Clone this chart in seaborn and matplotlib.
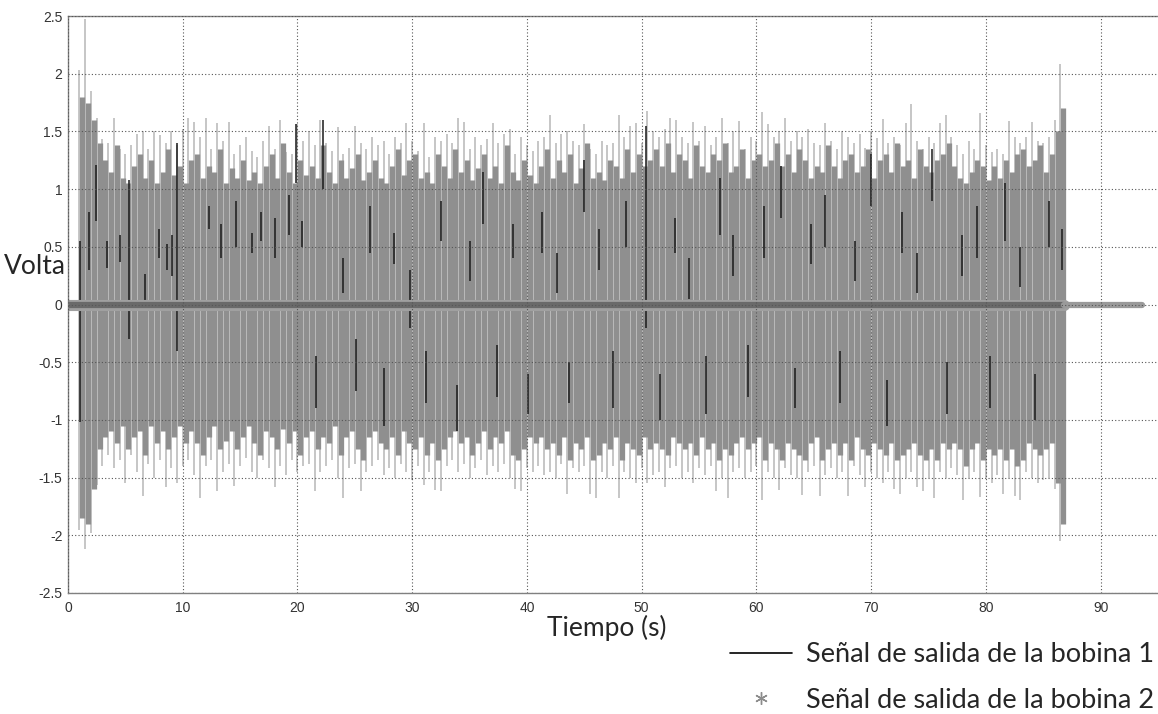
import numpy as np
import matplotlib
matplotlib.use('Agg')
import matplotlib.pyplot as plt
from matplotlib.lines import Line2D
import seaborn as sns

OUTPUT = 'out.png'

# --- datos ---
# picos de la bobina 2 (cada 0.5 s desde 1.0 s)
pico_sup = [
    2.03, 2.47, 1.85, 1.62, 1.43, 1.40, 1.62, 1.35, 1.30, 1.38, 1.48, 1.50, 1.35, 1.50, 1.47, 1.40, 1.50, 1.38, 1.52, 1.62,
    1.58, 1.45, 1.62, 1.35, 1.57, 1.42, 1.58, 1.30, 1.38, 1.45, 1.33, 1.28, 1.42, 1.55, 1.35, 1.60, 1.32, 1.30, 1.56, 1.42,
    1.50, 1.38, 1.60, 1.40, 1.33, 1.54, 1.30, 1.36, 1.55, 1.40, 1.35, 1.45, 1.38, 1.42, 1.30, 1.45, 1.40, 1.57, 1.42, 1.33,
    1.57, 1.28, 1.45, 1.42, 1.48, 1.40, 1.62, 1.58, 1.35, 1.45, 1.38, 1.43, 1.57, 1.40, 1.48, 1.52, 1.30, 1.45, 1.38, 1.33,
    1.42, 1.45, 1.64, 1.40, 1.48, 1.50, 1.42, 1.38, 1.56, 1.35, 1.30, 1.42, 1.38, 1.40, 1.64, 1.45, 1.55, 1.57, 1.40, 1.68,
    1.50, 1.45, 1.52, 1.62, 1.60, 1.45, 1.40, 1.58, 1.42, 1.55, 1.38, 1.45, 1.62, 1.40, 1.50, 1.59, 1.35, 1.45, 1.42, 1.67,
    1.56, 1.45, 1.50, 1.62, 1.42, 1.50, 1.45, 1.52, 1.40, 1.38, 1.57, 1.42, 1.35, 1.50, 1.45, 1.40, 1.48, 1.36, 1.50, 1.44,
    1.61, 1.40, 1.45, 1.38, 1.57, 1.74, 1.42, 1.35, 1.45, 1.40, 1.57, 1.64, 1.45, 1.38, 1.30, 1.42, 1.35, 1.66, 1.38, 1.32,
    1.35, 1.30, 1.59, 1.45, 1.40, 1.45, 1.58, 1.42, 1.40, 1.45, 1.60, 2.08,
]
pico_inf = [
    -1.95, -2.12, -1.98, -1.56, -1.40, -1.30, -1.42, -1.35, -1.55, -1.30, -1.45, -1.66, -1.38, -1.50, -1.35, -1.58, -1.42, -1.55, -1.40, -1.35,
    -1.48, -1.68, -1.40, -1.35, -1.62, -1.45, -1.38, -1.57, -1.40, -1.33, -1.45, -1.50, -1.35, -1.42, -1.58, -1.40, -1.48, -1.35, -1.45, -1.40,
    -1.38, -1.62, -1.45, -1.40, -1.35, -1.50, -1.68, -1.42, -1.38, -1.62, -1.45, -1.40, -1.35, -1.48, -1.42, -1.50, -1.38, -1.45, -1.52, -1.40,
    -1.56, -1.45, -1.61, -1.62, -1.40, -1.35, -1.45, -1.38, -1.50, -1.42, -1.35, -1.48, -1.40, -1.45, -1.38, -1.50, -1.60, -1.62, -1.42, -1.45,
    -1.40, -1.48, -1.45, -1.50, -1.38, -1.64, -1.42, -1.45, -1.40, -1.64, -1.68, -1.45, -1.50, -1.40, -1.68, -1.45, -1.50, -1.55, -1.42, -1.55,
    -1.48, -1.45, -1.58, -1.42, -1.40, -1.50, -1.45, -1.55, -1.42, -1.48, -1.40, -1.62, -1.50, -1.68, -1.45, -1.42, -1.50, -1.45, -1.40, -1.69,
    -1.45, -1.50, -1.61, -1.42, -1.48, -1.50, -1.65, -1.45, -1.40, -1.66, -1.48, -1.42, -1.50, -1.45, -1.66, -1.40, -1.48, -1.58, -1.45, -1.50,
    -1.55, -1.45, -1.60, -1.64, -1.50, -1.45, -1.58, -1.62, -1.50, -1.68, -1.45, -1.50, -1.42, -1.48, -1.69, -1.50, -1.45, -1.67, -1.50, -1.55,
    -1.48, -1.64, -1.50, -1.66, -1.69, -1.45, -1.50, -1.55, -1.52, -1.50, -1.60, -2.05,
]
# nucleo de la bobina 2 (cada 0.5 s desde 1.25 s)
nucleo_sup = [
    1.80, 1.75, 1.60, 1.40, 1.25, 1.15, 1.38, 1.10, 1.05, 1.20, 1.30, 1.10, 1.25, 1.05, 1.15, 1.35, 1.12, 1.20, 1.05, 1.25,
    1.30, 1.10, 1.20, 1.15, 1.35, 1.05, 1.18, 1.10, 1.25, 1.08, 1.15, 1.05, 1.20, 1.30, 1.10, 1.40, 1.15, 1.05, 1.25, 1.12,
    1.20, 1.10, 1.38, 1.15, 1.05, 1.25, 1.10, 1.18, 1.30, 1.08, 1.15, 1.25, 1.10, 1.05, 1.20, 1.35, 1.12, 1.25, 1.30, 1.10,
    1.15, 1.05, 1.30, 1.20, 1.10, 1.35, 1.15, 1.25, 1.08, 1.18, 1.30, 1.10, 1.20, 1.05, 1.38, 1.15, 1.08, 1.25, 1.12, 1.05,
    1.20, 1.35, 1.10, 1.25, 1.15, 1.30, 1.05, 1.18, 1.40, 1.10, 1.15, 1.08, 1.25, 1.20, 1.10, 1.35, 1.15, 1.30, 1.20, 1.25,
    1.35, 1.20, 1.40, 1.15, 1.30, 1.25, 1.10, 1.38, 1.20, 1.15, 1.30, 1.25, 1.40, 1.15, 1.20, 1.35, 1.10, 1.25, 1.30, 1.20,
    1.25, 1.40, 1.20, 1.30, 1.15, 1.35, 1.25, 1.10, 1.20, 1.15, 1.38, 1.20, 1.10, 1.25, 1.30, 1.15, 1.20, 1.35, 1.10, 1.25,
    1.30, 1.15, 1.40, 1.20, 1.25, 1.10, 1.35, 1.20, 1.15, 1.25, 1.30, 1.40, 1.20, 1.10, 1.05, 1.15, 1.25, 1.20, 1.08, 1.20,
    1.10, 1.25, 1.15, 1.30, 1.35, 1.20, 1.25, 1.38, 1.15, 1.30, 1.50, 1.70,
]
nucleo_inf = [
    -1.85, -1.90, -1.60, -1.25, -1.15, -1.10, -1.20, -1.05, -1.25, -1.15, -1.10, -1.30, -1.05, -1.20, -1.10, -1.25, -1.15, -1.05, -1.20, -1.10,
    -1.20, -1.30, -1.15, -1.05, -1.25, -1.18, -1.10, -1.25, -1.15, -1.05, -1.20, -1.30, -1.10, -1.15, -1.25, -1.08, -1.20, -1.10, -1.30, -1.15,
    -1.10, -1.25, -1.15, -1.20, -1.05, -1.30, -1.15, -1.10, -1.25, -1.35, -1.15, -1.10, -1.20, -1.25, -1.15, -1.30, -1.10, -1.20, -1.25, -1.15,
    -1.30, -1.20, -1.35, -1.25, -1.15, -1.10, -1.20, -1.15, -1.30, -1.20, -1.10, -1.25, -1.15, -1.20, -1.10, -1.30, -1.35, -1.25, -1.15, -1.20,
    -1.15, -1.25, -1.20, -1.30, -1.15, -1.35, -1.20, -1.25, -1.15, -1.35, -1.30, -1.20, -1.25, -1.15, -1.35, -1.20, -1.25, -1.30, -1.15, -1.25,
    -1.20, -1.25, -1.30, -1.15, -1.20, -1.25, -1.20, -1.30, -1.15, -1.25, -1.20, -1.35, -1.25, -1.30, -1.20, -1.15, -1.25, -1.20, -1.15, -1.35,
    -1.20, -1.25, -1.35, -1.20, -1.25, -1.30, -1.35, -1.20, -1.15, -1.35, -1.25, -1.20, -1.30, -1.20, -1.35, -1.15, -1.25, -1.30, -1.20, -1.25,
    -1.30, -1.20, -1.35, -1.30, -1.25, -1.20, -1.30, -1.35, -1.25, -1.35, -1.20, -1.25, -1.20, -1.25, -1.40, -1.25, -1.20, -1.35, -1.25, -1.30,
    -1.25, -1.35, -1.25, -1.40, -1.35, -1.20, -1.25, -1.30, -1.25, -1.20, -1.55, -1.90,
]
t_pico = np.arange(1.0, 86.6, 0.5)
t_nucleo = t_pico + 0.25

# bobina 1: tramos negros visibles
bob1_t = [1.05, 1.8, 2.4, 3.4, 4.5, 5.3, 6.7, 7.9, 8.6, 9.1, 9.5, 12.3, 13.3, 14.6, 16.0, 16.8, 18.0, 19.3,
          19.9, 20.4, 21.6, 22.2, 24.0, 25.1, 26.3, 27.5, 28.4, 29.8, 31.2, 32.5, 33.9, 35.0, 36.2, 37.4, 38.8, 40.1,
          41.3, 42.6, 43.7, 45.0, 46.3, 47.5, 48.6, 50.4, 51.6, 52.9, 54.1, 55.6, 56.8, 58.0, 59.3, 60.7, 62.1, 63.4,
          64.8, 66.0, 67.3, 68.6, 70.0, 71.4, 72.7, 74.0, 75.3, 76.6, 77.9, 79.2, 80.4, 81.7, 83.0, 84.3, 85.5, 86.6]
bob1_sup = [0.55, 0.80, 1.21, 0.55, 0.60, 1.08, 0.26, 0.65, 0.52, 0.60, 1.40, 0.85, 0.70, 0.90, 0.62, 0.80, 0.75, 0.95,
            1.56, 0.72, -0.45, 1.60, 0.40, -0.30, 0.85, -0.55, 0.62, 0.30, -0.40, 0.90, -0.70, 0.55, 1.15, -0.35, 0.70, -0.60,
            0.80, 0.45, -0.50, 1.25, 0.65, -0.40, 0.90, 1.55, -0.60, 0.75, 0.40, -0.45, 1.10, 0.60, -0.35, 0.85, 1.20, -0.55,
            0.70, 0.95, -0.40, 0.55, 1.30, -0.65, 0.80, 0.45, 1.35, -0.50, 0.60, 0.85, -0.45, 1.05, 0.50, -0.60, 0.90, 0.65]
bob1_inf = [-1.02, 0.30, 0.72, 0.32, 0.37, -0.30, 0.03, 0.40, 0.30, 0.25, -0.40, 0.65, 0.40, 0.50, 0.45, 0.55, 0.40, 0.60,
            1.05, 0.50, -0.90, 1.00, 0.10, -0.75, 0.45, -1.05, 0.35, -0.20, -0.85, 0.55, -1.10, 0.20, 0.70, -0.80, 0.40, -0.95,
            0.45, 0.10, -0.85, 0.80, 0.30, -0.90, 0.50, -0.20, -1.00, 0.45, 0.05, -0.95, 0.60, 0.25, -0.80, 0.40, 0.75, -0.90,
            0.35, 0.50, -0.85, 0.20, 0.85, -1.05, 0.45, 0.10, 0.90, -0.95, 0.25, 0.40, -0.90, 0.55, 0.15, -1.00, 0.50, 0.30]

# banda alrededor de cero (ruido de fondo)
cero_t = [0.0, 86.8]
cero_v = [0.0, 0.0]
cola_t = [86.8, 93.6]
cola_v = [0.0, 0.0]

y_ticks = [2.5, 2, 1.5, 1, 0.5, 0, -0.5, -1, -1.5, -2, -2.5]
y_labels = ['2.5', '2', '1.5', '1', '0.5', '0', '-0.5', '-1', '-1.5', '-2', '-2.5']
x_ticks = [0, 10, 20, 30, 40, 50, 60, 70, 80, 90]


def main():
    sns.set_style('white')
    plt.rcParams['font.family'] = ['Lato', 'DejaVu Sans']

    fig = plt.figure(figsize=(11.58, 7.14), dpi=100)
    ax = fig.add_axes([68 / 1158, 1 - 593 / 714, 1 - 68 / 1158, 577 / 714])

    # bobina 2: picos claros debajo, nucleo gris encima
    ax.vlines(t_pico, pico_inf, pico_sup, color='#c2c2c2', linewidth=1.3, zorder=1)
    ax.vlines(t_nucleo, nucleo_inf, nucleo_sup, color='#8f8f8f', linewidth=3.8, zorder=1.2)

    # bobina 1
    ax.vlines(bob1_t, bob1_inf, bob1_sup, color='#1a1a1a', linewidth=1.1, zorder=1.5)

    # banda de cero
    sns.lineplot(x=cero_t, y=cero_v, ax=ax, color='#a0a0a0', linewidth=8, zorder=1.7)
    sns.lineplot(x=cero_t, y=cero_v, ax=ax, color='#6a6a6a', linewidth=4.5, zorder=1.8)
    sns.lineplot(x=cola_t, y=cola_v, ax=ax, color='#9a9a9a', linewidth=4.5, zorder=1.8)

    ax.set_xlim(0, 95)
    ax.set_ylim(-2.5, 2.5)
    ax.set_xticks(x_ticks)
    ax.set_xticklabels([str(v) for v in x_ticks])
    ax.set_yticks(y_ticks)
    ax.set_yticklabels(y_labels)
    ax.tick_params(direction='in', length=5, labelsize=10, colors='#333333', pad=4)
    ax.tick_params(axis='x', pad=6)
    for lab in ax.get_xticklabels() + ax.get_yticklabels():
        lab.set_family(['Liberation Sans', 'DejaVu Sans'])
    for s in ['left', 'bottom', 'top']:
        ax.spines[s].set_color('#808080')
        ax.spines[s].set_linewidth(1.0)
    ax.spines['right'].set_visible(False)

    ax.set_axisbelow(False)
    ax.grid(True, color='#555555', linestyle=(0, (1, 2)), linewidth=0.8)

    fig.text(66 / 1158, 1 - 266 / 714, 'Volta', ha='right', va='center', fontsize=19)
    fig.text(607 / 1158, 1 - 628 / 714, 'Tiempo (s)', ha='center', va='center', fontsize=19)

    handles = [Line2D([], [], color='black', linewidth=1.2),
               Line2D([], [], color='#8c8c8c', marker=(6, 2, 0), linestyle='none',
                      markersize=9, markeredgewidth=1.0)]
    fig.legend(handles, ['Señal de salida de la bobina 1', 'Señal de salida de la bobina 2'],
               loc='upper right', bbox_to_anchor=(1.0 + 20 / 1158, 1 - 618 / 714), frameon=False,
               fontsize=19.5, handlelength=2.3, handletextpad=0.5, labelspacing=0.75)

    fig.savefig(OUTPUT, dpi=100)


if __name__ == "__main__":
    main()
